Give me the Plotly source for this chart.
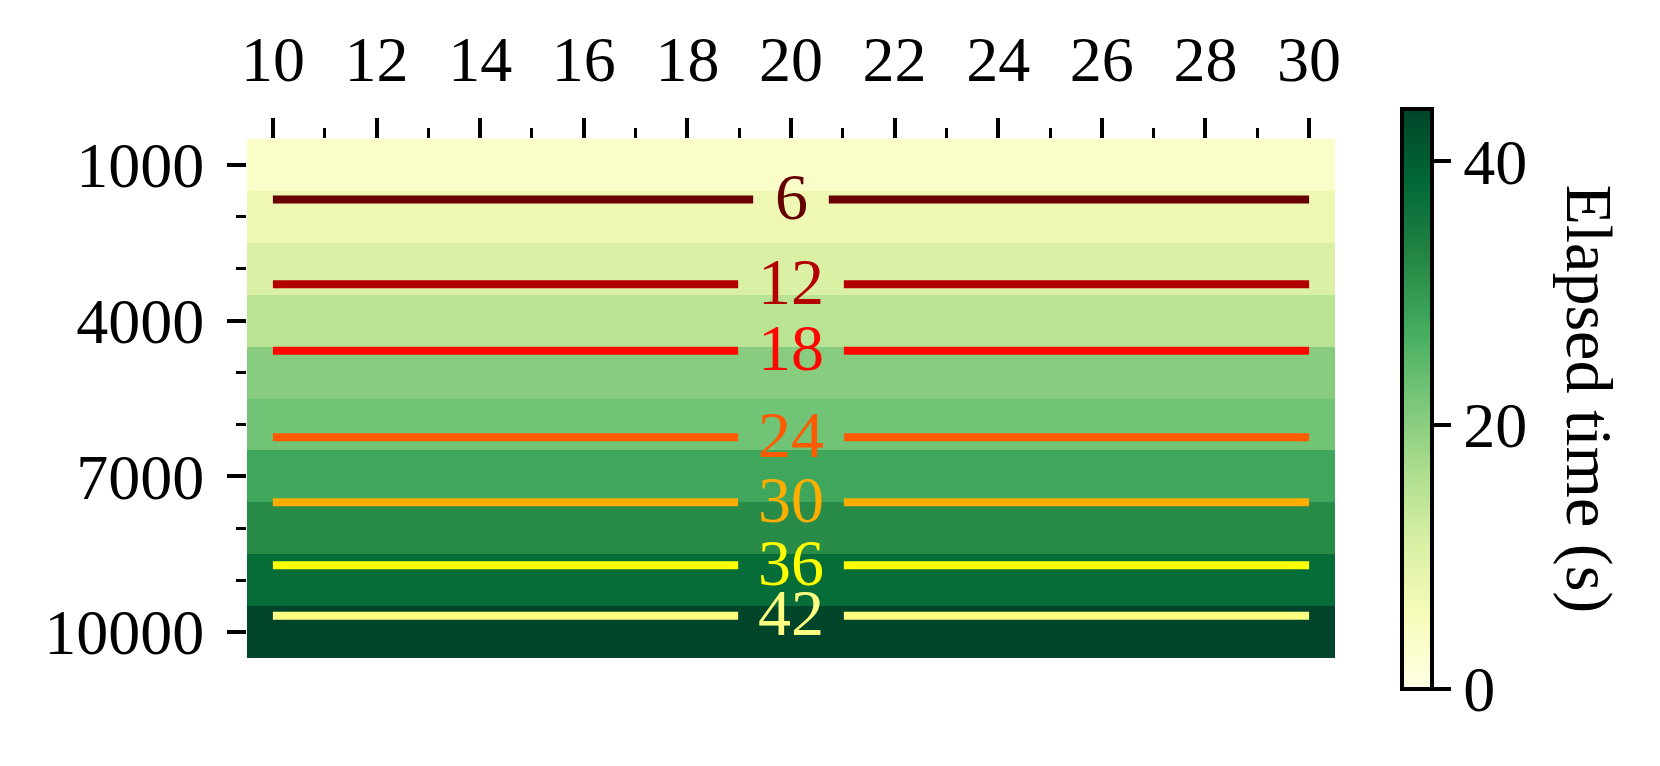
import numpy as np
import plotly.graph_objects as go
import plotly.colors as pc

# grid
X_VALUES = list(range(10, 31))                      # 10 .. 30
Y_VALUES = [1000, 2000, 3000, 4000, 5000, 6000, 7000, 8000, 9000, 10000]
# elapsed time (s) per row, same along x
ROW_TIMES = [3.6, 7.2, 10.8, 14.8, 20.3, 22.7, 28.0, 32.0, 37.6, 44.0]
LEVELS = [6, 12, 18, 24, 30, 36, 42]

X_TICKS = [10, 12, 14, 16, 18, 20, 22, 24, 26, 28, 30]
Y_TICKS = [1000, 4000, 7000, 10000]
Y_TICK_LABELS = ["1000", "4000", "7000", "10000"]
CBAR_TICKS = [0, 20, 40]

# contour line colours (matplotlib "hot")
LEVEL_COLORS = ["#660000", "#b30000", "#ff0700", "#ff5a00", "#ffae00", "#ffff04", "#ffff81"]

FONT = "Liberation Serif, Times New Roman, serif"

z = [[t] * len(X_VALUES) for t in ROW_TIMES]

fig = go.Figure()

fig.add_trace(go.Heatmap(
    x=X_VALUES,
    y=Y_VALUES,
    z=z,
    zmin=0,
    zmax=max(ROW_TIMES),
    colorscale=pc.sequential.YlGn,
    colorbar=dict(
        x=1.0616, xanchor="left", xpad=0,
        y=0.5, yanchor="middle", ypad=0,
        lenmode="pixels", len=580,
        thickness=30,
        outlinewidth=4, outlinecolor="black",
        tickvals=CBAR_TICKS,
        ticks="outside", ticklen=17, tickwidth=4, tickcolor="black",
        tickfont=dict(family=FONT, size=64, color="black"),
    ),
    hoverinfo="skip",
))

# contour lines with an inline label in the middle
x_mid = (X_VALUES[0] + X_VALUES[-1]) / 2
for level, color in zip(LEVELS, LEVEL_COLORS):
    y_level = float(np.interp(level, ROW_TIMES, Y_VALUES))
    label = str(level)
    gap = 0.44 + 0.29 * len(label)
    fig.add_trace(go.Scatter(
        x=[X_VALUES[0], x_mid - gap, None, x_mid + gap, X_VALUES[-1]],
        y=[y_level, y_level, None, y_level, y_level],
        mode="lines",
        line=dict(color=color, width=8),
        showlegend=False,
        hoverinfo="skip",
    ))
    fig.add_annotation(
        x=x_mid, y=y_level, text=label, showarrow=False,
        xanchor="center", yanchor="middle", yshift=3,
        font=dict(family=FONT, size=66, color=color),
    )

fig.add_annotation(
    xref="paper", yref="paper", x=1.2335, y=0.5,
    text="Elapsed time (s)", textangle=90, showarrow=False,
    xanchor="center", yanchor="middle",
    font=dict(family=FONT, size=66, color="black"),
)

fig.update_xaxes(
    side="top",
    range=[9.5, 30.5],
    tickvals=X_TICKS,
    ticks="outside", ticklen=20, tickwidth=3.5, tickcolor="black",
    ticklabelstandoff=11,
    minor=dict(dtick=1, tick0=10, ticks="outside", ticklen=10, tickwidth=3, tickcolor="black"),
    showline=False, showgrid=False, zeroline=False,
    automargin=False,
    tickfont=dict(family=FONT, size=64, color="black"),
)
fig.update_yaxes(
    range=[10500, 500],
    tickvals=Y_TICKS,
    ticktext=Y_TICK_LABELS,
    ticks="outside", ticklen=19, tickwidth=3.5, tickcolor="black",
    ticklabelstandoff=10,
    minor=dict(dtick=1000, tick0=1000, ticks="outside", ticklen=10, tickwidth=3, tickcolor="black"),
    showline=False, showgrid=False, zeroline=False,
    automargin=False,
    tickfont=dict(family=FONT, size=64, color="black"),
)

# the page adds an 8px body margin, so the plot area is shifted back by 8px
fig.update_layout(
    width=1660,
    height=766,
    margin=dict(l=239, r=333, t=131, b=116),
    plot_bgcolor="white",
    paper_bgcolor="white",
    showlegend=False,
)

fig.write_html("out.html")
